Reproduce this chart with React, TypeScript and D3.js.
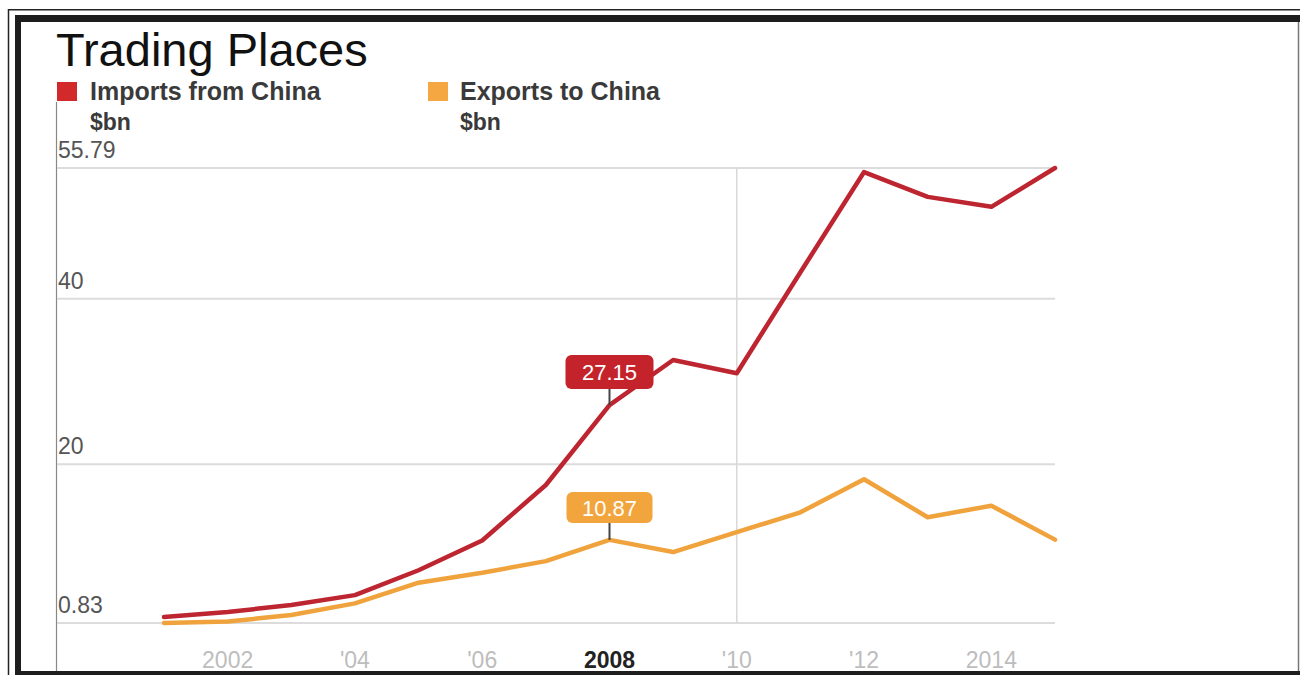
import React from "react";
import * as d3 from "d3";

const years = [2001, 2002, 2003, 2004, 2005, 2006, 2007, 2008, 2009, 2010, 2011, 2012, 2013, 2014, 2015];
const imports = [1.55, 2.16, 3.0, 4.2, 7.2, 10.8, 17.5, 27.15, 32.6, 31.0, 43.2, 55.3, 52.3, 51.1, 55.79];
const exportsData = [0.83, 1.0, 1.8, 3.2, 5.7, 6.9, 8.3, 10.87, 9.4, 11.8, 14.2, 18.2, 13.6, 15.0, 10.9];
const yTicks = [0.83, 20, 40, 55.79];
const yTickLabels = ["0.83", "20", "40", "55.79"];
const xTicks = [2002, 2004, 2006, 2008, 2010, 2012, 2014];
const xTickLabels = ["2002", "'04", "'06", "2008", "'10", "'12", "2014"];
const highlightYear = 2008;
const seriesNames = ["Imports from China", "Exports to China"];
const unitLabel = "$bn";
const title = "Trading Places";

const RED = "#bd2530";
const ORANGE = "#f0a33c";
const FONT = "'Liberation Sans', Arial, Helvetica, sans-serif";

export default function App() {
  const x = d3.scaleLinear().domain([2001, 2015]).range([164, 1055]);
  const y = d3.scaleLinear().domain([0.83, 55.79]).range([623, 168]);
  const line = d3
    .line<number>()
    .x((_, i) => x(years[i]))
    .y((d) => y(d));

  const hi = years.indexOf(highlightYear);
  const hx = x(highlightYear);

  const callout = (val: number, color: string, boxTop: number, boxH: number, boxW: number) => {
    const py = y(val);
    return (
      <g>
        <line x1={hx} x2={hx} y1={boxTop + boxH} y2={py} stroke="#444" strokeWidth={2} />
        <rect x={hx - boxW / 2} y={boxTop} width={boxW} height={boxH} rx={6} fill={color} />
        <text
          x={hx}
          y={boxTop + boxH / 2 + 8}
          textAnchor="middle"
          fontSize={22}
          fill="#fff"
          fontFamily={FONT}
        >
          {val.toFixed(2)}
        </text>
      </g>
    );
  };

  return (
    <svg
      width={1300}
      height={675}
      style={{ position: "absolute", left: 0, top: 0, background: "#fff" }}
    >
      {/* frame */}
      <line x1={8.5} x2={8.5} y1={9} y2={675} stroke="#222" strokeWidth={1.5} />
      <line x1={8} x2={1300} y1={9.75} y2={9.75} stroke="#222" strokeWidth={1.5} />
      <rect x={15} y={15} width={6} height={660} fill="#1e1e1e" />
      <rect x={15} y={15} width={1285} height={7} fill="#1e1e1e" />
      <rect x={15} y={671} width={1285} height={4} fill="#1e1e1e" />
      <line x1={1298.5} x2={1298.5} y1={22} y2={671} stroke="#777" strokeWidth={1.5} />

      {/* title */}
      <text x={56} y={66} fontSize={47} fill="#111" fontFamily={FONT}>
        {title}
      </text>

      {/* legend */}
      <rect x={57} y={82} width={20} height={19} fill="#d22a2a" />
      <text x={90} y={100} fontSize={25} fontWeight="bold" fill="#3a3a3a" fontFamily={FONT}>
        {seriesNames[0]}
      </text>
      <text x={90} y={130} fontSize={23} fontWeight="bold" fill="#3a3a3a" fontFamily={FONT}>
        {unitLabel}
      </text>
      <rect x={428} y={82} width={20} height={19} fill="#f5a842" />
      <text x={460} y={100} fontSize={25} fontWeight="bold" fill="#3a3a3a" fontFamily={FONT}>
        {seriesNames[1]}
      </text>
      <text x={460} y={130} fontSize={23} fontWeight="bold" fill="#3a3a3a" fontFamily={FONT}>
        {unitLabel}
      </text>

      {/* left axis line */}
      <line x1={56.5} x2={56.5} y1={102} y2={671} stroke="#888" strokeWidth={1.2} />

      {/* grid */}
      {yTicks.map((t, i) => (
        <g key={t}>
          <line x1={57} x2={1055} y1={y(t)} y2={y(t)} stroke="#dcdcdc" strokeWidth={2} />
          <text x={58} y={y(t) - 10} fontSize={23} fill="#555" fontFamily={FONT}>
            {yTickLabels[i]}
          </text>
        </g>
      ))}
      <line x1={x(2010)} x2={x(2010)} y1={y(55.79)} y2={y(0.83)} stroke="#d8d8d8" strokeWidth={1.5} />

      {/* x labels */}
      {xTicks.map((t, i) => (
        <text
          key={t}
          x={x(t)}
          y={668}
          textAnchor="middle"
          fontSize={23}
          fontWeight={t === highlightYear ? "bold" : "normal"}
          fill={t === highlightYear ? "#222" : "#bdbdbd"}
          fontFamily={FONT}
        >
          {xTickLabels[i]}
        </text>
      ))}

      {/* lines */}
      <path d={line(exportsData) || ""} fill="none" stroke={ORANGE} strokeWidth={4.5} strokeLinejoin="round" strokeLinecap="round" />
      <path d={line(imports) || ""} fill="none" stroke={RED} strokeWidth={4.5} strokeLinejoin="round" strokeLinecap="round" />

      {/* callouts */}
      {callout(imports[hi], "#c4232b", 355, 34, 88)}
      {callout(exportsData[hi], "#f2a53d", 492, 31, 86)}
    </svg>
  );
}
